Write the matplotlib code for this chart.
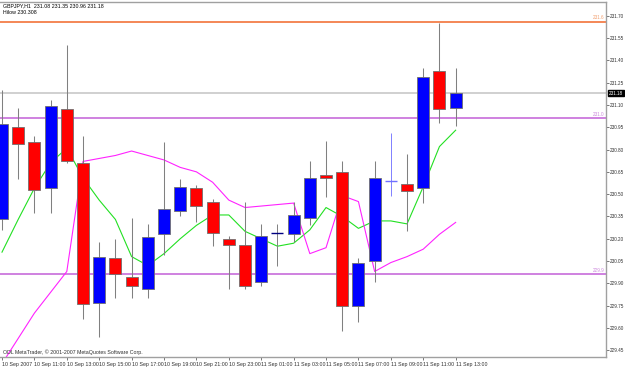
import matplotlib
matplotlib.use("Agg")
import matplotlib.pyplot as plt
from matplotlib.transforms import blended_transform_factory

# ---------------- data ----------------
symbol_header = "GBPJPY,H1  231.08 231.35 230.96 231.18"
indicator_header = "Hilow 230.308"
copyright_text = "ODL MetaTrader, \u00a9 2001-2007 MetaQuotes Software Corp."

opens  = [230.33, 230.95, 230.85, 230.54, 231.07, 230.71, 229.77, 230.07, 229.94, 229.86,
          230.23, 230.39, 230.54, 230.45, 230.20, 230.16, 229.91, 230.24, 230.23, 230.34,
          230.63, 230.65, 229.75, 230.05, 230.59, 230.57, 230.54, 231.33, 231.08]
highs  = [231.20, 231.08, 230.89, 231.13, 231.50, 230.89, 230.18, 230.20, 230.34, 230.30,
          230.85, 230.60, 230.56, 230.47, 230.22, 230.45, 230.30, 230.30, 230.45, 230.72,
          230.86, 230.72, 230.07, 230.72, 230.91, 230.77, 231.35, 231.65, 231.35]
lows   = [230.26, 230.60, 230.37, 230.37, 230.71, 229.66, 229.54, 229.80, 229.80, 229.80,
          230.09, 230.35, 230.31, 230.15, 229.86, 229.86, 229.88, 230.02, 230.18, 230.29,
          230.48, 229.58, 229.64, 229.91, 230.49, 230.25, 230.44, 230.98, 230.96]
closes = [230.97, 230.84, 230.53, 231.09, 230.72, 229.76, 230.08, 229.96, 229.88, 230.21,
          230.40, 230.55, 230.42, 230.24, 230.16, 229.88, 230.22, 230.24, 230.36, 230.61,
          230.61, 229.75, 230.04, 230.61, 230.59, 230.52, 231.29, 231.07, 231.18]

green_line = [230.11, 230.33, 230.54, 230.71, 230.81, 230.61, 230.46, 230.33, 230.08, 230.02,
              230.10, 230.20, 230.29, 230.36, 230.36, 230.25, 230.20, 230.15, 230.17, 230.26,
              230.41, 230.35, 230.27, 230.32, 230.32, 230.30, 230.55, 230.82, 230.93]
magenta_line = [229.36, 229.53, 229.70, 229.84, 229.98, 230.72, 230.74, 230.76, 230.79, 230.76,
                230.73, 230.68, 230.65, 230.58, 230.46, 230.41, 230.42, 230.43, 230.44, 230.10,
                230.14, 230.49, 230.45, 229.98, 230.04, 230.08, 230.13, 230.23, 230.31]

resistance_level = 231.66
upper_level = 231.01
lower_level = 229.96
bid_level = 231.18
level_labels = ["231.6", "231.0", "229.9"]

xtick_index = [0, 2, 4, 6, 8, 10, 12, 14, 16, 18, 20, 22, 24, 26, 28]
xtick_labels = ["10 Sep 2007", "10 Sep 11:00", "10 Sep 13:00", "10 Sep 15:00", "10 Sep 17:00",
                "10 Sep 19:00", "10 Sep 21:00", "10 Sep 23:00", "11 Sep 01:00", "11 Sep 03:00",
                "11 Sep 05:00", "11 Sep 07:00", "11 Sep 09:00", "11 Sep 11:00", "11 Sep 13:00"]
ytick_vals = [229.45, 229.60, 229.75, 229.90, 230.05, 230.20, 230.35, 230.50, 230.65,
              230.80, 230.95, 231.10, 231.25, 231.40, 231.55, 231.70]

# ---------------- style ----------------
FONT = "Liberation Sans"
FS = 3.8
FSY = 3.35
W, H = 625, 367
fig = plt.figure(figsize=(W / 100, H / 100), dpi=100)
fig.patch.set_facecolor("white")
ax = fig.add_axes([0 / W, (H - 357) / H, 606 / W, (357 - 2) / H])
ax.set_facecolor("white")

ax.set_xlim(-0.123, 37.28)
ax.set_ylim(229.405, 231.792)

# horizontal levels
ax.axhline(resistance_level, color="#f2733a", lw=1.2, zorder=1)
ax.axhline(upper_level, color="#cc77dd", lw=1.3, zorder=1)
ax.axhline(lower_level, color="#cc77dd", lw=1.3, zorder=1)
ax.axhline(bid_level, color="#d0d0d0", lw=1.4, zorder=1)

tr = blended_transform_factory(ax.transAxes, ax.transData)
for lvl, lab, col in zip([resistance_level, upper_level, lower_level], level_labels,
                         ["#f2a070", "#cc88dd", "#cc88dd"]):
    ax.text(0.998, lvl + 0.008, lab, transform=tr, ha="right", va="bottom",
            fontsize=FSY, color=col, family=FONT)

# indicator lines
n = len(opens)
xs = list(range(n))
ax.plot(xs, green_line, color="#22e022", lw=0.8, zorder=2)
ax.plot(xs, magenta_line, color="#ff22ff", lw=0.8, zorder=2)

# candles
body_w = 0.74
doji_colors = {17: "#000080", 24: "#7070ff"}
for i in range(n):
    o, h, l, c = opens[i], highs[i], lows[i], closes[i]
    if o == c:
        col = doji_colors.get(i, "#000080")
        wick_col = "#8080ff" if i == 24 else "#808080"
        ax.vlines(i, l, h, color=wick_col, lw=0.7, zorder=3)
        ax.hlines(o, i - body_w / 2, i + body_w / 2, color=col, lw=1.0, zorder=4)
        continue
    ax.vlines(i, l, h, color="#808080", lw=0.75, zorder=3)
    col = "#0000ff" if c > o else "#ff0000"
    ax.bar(i, abs(c - o), bottom=min(o, c), width=body_w, color=col,
           edgecolor="#707070", linewidth=0.6, zorder=4)

# axes styling
ax.spines["left"].set_visible(False)
for s in ["right", "bottom", "top"]:
    ax.spines[s].set_color("#a0a0a0")
    ax.spines[s].set_linewidth(1.0)

ax.yaxis.tick_right()
ax.set_yticks(ytick_vals)
ax.set_yticklabels([f"{v:.2f}" for v in ytick_vals], fontsize=FSY, family=FONT, color="#303030")
ax.tick_params(axis="y", length=2, width=0.6, color="#606060", pad=1.0)

ax.set_xticks(xtick_index)
ax.set_xticklabels(xtick_labels, fontsize=FS, family=FONT, color="#303030")
for t in ax.get_xticklabels():
    t.set_ha("left")
ax.tick_params(axis="x", length=2, width=0.6, color="#606060", pad=1.5)

# current price box
ax.text(1.005, bid_level, f"{bid_level:.2f}", transform=tr, ha="left", va="center",
        fontsize=FSY, family=FONT, color="white",
        bbox=dict(boxstyle="square,pad=0.2", fc="black", ec="black"))

# header texts
fig.text(3 / W, 1 - 3 / H, symbol_header, ha="left", va="top", fontsize=FS, family=FONT, color="black")
fig.text(3 / W, 1 - 9.5 / H, indicator_header, ha="left", va="top", fontsize=FS, family=FONT, color="black")
fig.text(3 / W, 1 - 355 / H, copyright_text, ha="left", va="bottom", fontsize=FS, family=FONT, color="#303030")

fig.savefig("out.png", dpi=100, facecolor="white")
